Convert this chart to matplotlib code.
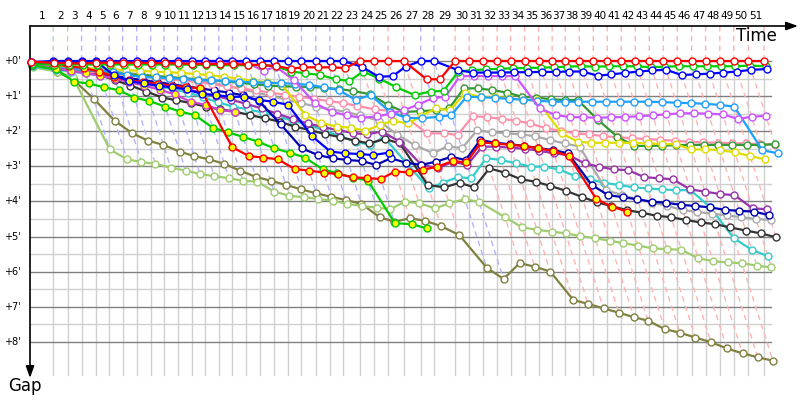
import numpy as np
import matplotlib
matplotlib.use("Agg")
import matplotlib.pyplot as plt

# leader lap times in seconds, laps 1..51
lap_times = [119, 77, 75, 75, 73, 72, 75, 75, 71, 73,
             75, 71, 75, 73, 75, 75, 73, 75, 72, 77,
             75, 71, 89, 75, 77, 84, 91, 71, 113, 75,
             75, 75, 72, 75, 75, 73, 70, 75, 75, 75,
             75, 75, 75, 75, 75, 77, 75, 76, 75, 78,
             84]
# who led each lap (colour of the lap line): G green, B blue, R red
lap_leader = "GGBBBBBBBBBBBBBBBBBBBBRRRRBBRRRRRRRRRRRRRRRRRRRRRRR"

# gap to the leader in minutes, one value per completed lap (lap 0 = start)
red_1 = [0.02, 0.05, 0.06, 0.07, 0.05, 0.05, 0.05, 0.05, 0.06, 0.06,
         0.07, 0.08, 0.08, 0.09, 0.09, 0.10, 0.12, 0.14, 0.22, 0.18,
         0.18, 0.18, 0.20, 0.00, 0.00, 0.00, 0.00, 0.52, 0.52, 0.00,
         0.00, 0.00, 0.00, 0.00, 0.00, 0.00, 0.00, 0.00, 0.00, 0.00,
         0.00, 0.00, 0.00, 0.00, 0.00, 0.00, 0.00, 0.00, 0.00, 0.00,
         0.00, 0.00]
blue_1 = [0.03, 0.03, 0.03, 0.02, 0.02, 0.00, 0.00, 0.00, 0.00, 0.00,
          0.00, 0.00, 0.00, 0.00, 0.00, 0.00, 0.00, 0.00, 0.00, 0.00,
          0.00, 0.00, 0.00, 0.16, 0.45, 0.43, 0.16, 0.00, 0.00, 0.26,
          0.33, 0.33, 0.33, 0.32, 0.32, 0.31, 0.31, 0.30, 0.30, 0.42,
          0.38, 0.34, 0.30, 0.27, 0.25, 0.40, 0.38, 0.36, 0.33, 0.30,
          0.25, 0.23]
green_1 = [0.08, 0.10, 0.10, 0.10, 0.10, 0.10, 0.10, 0.10, 0.10, 0.10,
           0.10, 0.11, 0.11, 0.12, 0.12, 0.12, 0.11, 0.15, 0.30, 0.35,
           0.40, 0.52, 0.57, 0.30, 0.50, 0.75, 0.97, 0.87, 0.85, 0.30,
           0.26, 0.24, 0.22, 0.21, 0.20, 0.19, 0.18, 0.16, 0.15, 0.16,
           0.15, 0.15, 0.15, 0.18, 0.16, 0.15, 0.15, 0.15, 0.15, 0.15,
           0.13, 0.15]
violet = [0.05, 0.08, 0.06, 0.04, 0.02, 0.01, 0.01, 0.01, 0.01, 0.02,
          0.03, 0.03, 0.03, 0.04, 0.04, 0.05, 0.28, 0.16, 0.55, 1.20,
          1.45, 1.55, 1.62, 1.58, 1.50, 1.40, 1.25, 1.06, 1.02, 0.43,
          0.43, 0.43, 0.43, 0.43, 1.35, 1.54, 1.60, 1.60, 1.62, 1.60,
          1.60, 1.57, 1.55, 1.52, 1.49, 1.49, 1.50, 1.52, 1.65, 1.59,
          1.56]
light_blue = [0.12, 0.20, 0.22, 0.25, 0.28, 0.30, 0.40, 0.45, 0.47, 0.49,
              0.51, 0.54, 0.55, 0.57, 0.59, 0.61, 0.62, 0.63, 0.65, 0.68,
              0.75, 0.83, 1.11, 0.97, 1.45, 1.62, 1.63, 1.59, 1.54, 1.02,
              1.03, 1.05, 1.08, 1.10, 1.13, 1.16, 1.16, 1.16, 1.16, 1.16,
              1.16, 1.16, 1.16, 1.17, 1.19, 1.20, 1.22, 1.25, 1.30, 2.54,
              2.63]
yellow = [0.08, 0.15, 0.18, 0.20, 0.22, 0.24, 0.26, 0.28, 0.30, 0.32,
          0.34, 0.37, 0.40, 0.45, 0.50, 0.57, 0.60, 0.64, 1.54, 1.76,
          1.87, 1.90, 1.99, 1.82, 1.70, 1.78, 1.57, 1.35, 1.40, 0.92,
          1.02, 1.03, 1.06, 1.11, 1.12, 2.06, 2.30, 2.33, 2.33, 2.33,
          2.33, 2.35, 2.36, 2.37, 2.52, 2.52, 2.54, 2.60, 2.71, 2.80]
dark_green = [0.10, 0.18, 0.22, 0.26, 0.30, 0.34, 0.37, 0.40, 0.43, 0.46,
              0.49, 0.52, 0.55, 0.58, 0.62, 0.66, 0.70, 0.72, 0.73, 0.74,
              0.76, 0.80, 0.85, 0.95, 1.25, 1.45, 1.43, 1.40, 1.35, 0.78,
              0.78, 0.83, 0.90, 1.02, 1.04, 1.09, 1.11, 1.11, 1.68, 2.16,
              2.42, 2.42, 2.41, 2.40, 2.39, 2.39, 2.39, 2.39, 2.39, 2.39,
              2.37]
pink = [0.12, 0.20, 0.25, 0.30, 0.33, 0.36, 0.40, 0.44, 0.48, 0.52,
        0.56, 0.60, 0.66, 0.72, 0.78, 0.84, 0.90, 0.96, 1.02, 1.08,
        1.14, 1.20, 1.28, 1.38, 1.42, 1.60, 2.06, 2.06, 2.11, 1.57,
        1.60, 1.65, 1.70, 1.78, 1.92, 1.99, 2.06, 2.09, 2.14, 2.17,
        2.20, 2.22, 2.25, 2.27, 2.30, 2.32, 2.33, 2.34, 2.35, 2.37,
        2.38]
gray = [0.10, 0.15, 0.20, 0.24, 0.27, 0.30, 0.34, 0.38, 0.42, 0.46,
        0.50, 0.55, 0.62, 0.70, 0.80, 0.90, 1.00, 1.10, 1.20, 1.30,
        1.38, 1.45, 1.55, 1.70, 2.10, 2.40, 2.63, 2.42, 2.49, 1.97,
        2.03, 2.06, 2.09, 2.14, 2.25, 2.35, 2.44, 3.68, 3.82, 3.94,
        4.04, 4.13, 4.25, 4.30, 4.35, 4.40, 4.45, 4.50, 4.53]
black = [0.08, 0.18, 0.22, 0.28, 0.40, 0.55, 0.70, 0.87, 1.04, 1.12,
         1.20, 1.30, 1.38, 1.44, 1.54, 1.63, 1.73, 1.87, 1.97, 2.08,
         2.17, 2.27, 2.35, 2.22, 2.35, 3.53, 3.60, 3.47, 3.60, 3.06,
         3.18, 3.37, 3.44, 3.56, 3.70, 3.87, 4.03, 4.13, 4.25, 4.32,
         4.41, 4.45, 4.53, 4.60, 4.65, 4.74, 4.83, 4.91, 5.02]
navy = [0.10, 0.20, 0.25, 0.30, 0.35, 0.42, 0.48, 0.55, 0.60, 0.66,
        0.72, 0.78, 0.84, 0.90, 0.98, 1.15, 1.80, 2.49, 2.68, 2.77,
        2.82, 2.85, 2.96, 2.77, 2.90, 2.96, 2.87, 2.73, 2.82, 2.25,
        2.33, 2.37, 2.42, 2.48, 2.54, 2.63, 3.53, 3.82, 3.88, 3.94,
        4.01, 4.04, 4.10, 4.13, 4.17, 4.24, 4.27, 4.29, 4.39]
purple = [0.12, 0.22, 0.27, 0.32, 0.37, 0.43, 0.50, 0.57, 0.64, 0.72,
          0.80, 0.90, 1.00, 1.10, 1.22, 1.35, 1.50, 1.65, 1.78, 1.88,
          1.97, 2.05, 2.09, 2.01, 2.30, 2.96, 3.05, 2.87, 2.96, 2.44,
          2.44, 2.47, 2.50, 2.56, 2.63, 2.68, 2.92, 3.01, 3.09, 3.11,
          3.31, 3.34, 3.37, 3.66, 3.72, 3.79, 3.82, 4.20, 4.22]
cyan = [0.15, 0.25, 0.30, 0.35, 0.42, 0.50, 0.57, 0.65, 0.72, 0.80,
        0.90, 1.03, 1.18, 1.30, 1.38, 1.47, 1.59, 1.70, 1.82, 1.97,
        2.14, 2.30, 2.39, 2.17, 2.90, 3.63, 3.47, 3.31, 3.34, 2.77,
        2.82, 2.91, 3.01, 3.01, 3.09, 3.28, 3.37, 3.47, 3.53, 3.60,
        3.63, 3.66, 3.68, 3.68, 4.15, 5.05, 5.38, 5.56]
light_green = [0.18, 0.30, 0.45, 2.52, 2.80, 2.88, 2.93, 3.04, 3.12, 3.22,
               3.28, 3.34, 3.41, 3.44, 3.72, 3.84, 3.88, 3.93, 3.98, 4.07,
               4.13, 4.18, 4.22, 4.01, 4.05, 4.20, 4.05, 3.94, 4.01, 4.45,
               4.74, 4.81, 4.86, 4.91, 4.99, 5.05, 5.12, 5.19, 5.26, 5.34,
               5.36, 5.38, 5.62, 5.70, 5.74, 5.76, 5.83, 5.88]
olive = [0.10, 0.30, 0.54, 1.07, 1.70, 2.06, 2.27, 2.39, 2.58, 2.71,
         2.80, 2.93, 3.12, 3.30, 3.41, 3.53, 3.66, 3.77, 3.87, 3.96,
         4.07, 4.45, 4.58, 4.48, 4.55, 4.70, 4.96, 5.89, 6.21, 5.76,
         5.86, 6.00, 6.81, 6.92, 7.05, 7.17, 7.30, 7.40, 7.64, 7.74,
         7.88, 8.01, 8.19, 8.33, 8.44, 8.54]
red_2 = [0.05, 0.10, 0.15, 0.20, 0.30, 0.45, 0.55, 0.60, 0.65, 0.70,
         0.74, 0.78, 2.46, 2.71, 2.75, 2.80, 3.08, 3.12, 3.18, 3.22,
         3.31, 3.34, 3.36, 3.15, 3.17, 3.10, 3.01, 2.85, 2.89, 2.32,
         2.35, 2.39, 2.42, 2.49, 2.56, 2.71, 3.93, 4.15, 4.29]
blue_2 = [0.03, 0.00, 0.00, 0.00, 0.00, 0.40, 0.57, 0.64, 0.71, 0.75,
          0.81, 0.94, 0.97, 1.02, 1.02, 1.11, 1.16, 1.25, 2.14, 2.58,
          2.63, 2.65, 2.68, 2.61]
green_2 = [0.12, 0.24, 0.59, 0.64, 0.75, 0.83, 1.04, 1.14, 1.30, 1.44,
           1.54, 1.90, 2.03, 2.16, 2.30, 2.49, 2.61, 2.75, 3.08, 3.20,
           3.32, 3.41, 4.62, 4.65, 4.77]
magenta_2 = [0.10, 0.20, 0.28, 0.35, 0.42, 0.50, 0.60, 0.70, 0.82, 0.95,
             1.16, 1.25, 1.40, 1.45]

# (gaps, line colour, marker fill), drawn bottom to top
drivers = [
    (olive, "#808040", "white"),
    (light_green, "#a0cc70", "white"),
    (cyan, "#33cccc", "white"),
    (black, "#333333", "white"),
    (gray, "#aaaaaa", "white"),
    (purple, "#9933aa", "white"),
    (navy, "#0000b0", "white"),
    (pink, "#ff8fab", "white"),
    (dark_green, "#339933", "white"),
    (yellow, "#dddd00", "white"),
    (light_blue, "#1ea0ff", "white"),
    (violet, "#cc55ff", "white"),
    (magenta_2, "#cc44cc", "#ffff00"),
    (green_2, "#00cc00", "#ffff00"),
    (red_2, "#ff0000", "#ffff00"),
    (blue_2, "#0000ff", "#ffff00"),
    (green_1, "#00cc00", "white"),
    (blue_1, "#0000ff", "white"),
    (red_1, "#ff0000", "white"),
]
leader_colors = {"G": "#b0e0a8", "B": "#b4b4ff", "R": "#ffb4b4"}

# pixel scale of the original: 11.2 px per minute across, 35.1 px per minute down
T = np.concatenate([[0.0], np.cumsum(lap_times) / 60.0])
x_left = -1 / 11.2
x_right = 769 / 11.2
y_top = -35 / 35.1
y_bottom = 324 / 35.1

fig = plt.figure(figsize=(8, 4), dpi=100)
ax = fig.add_axes([30 / 800, 15 / 400, 770 / 800, 359 / 400])
ax.set_xlim(x_left, x_right)
ax.set_ylim(y_bottom, y_top)
ax.axis("off")

grid_end = T[-1] + 0.6
for t in T[1:]:
    ax.plot([t, t], [0, 8.95], color="#d0d0d0", lw=1, zorder=0.5)
for m in np.arange(0.5, 8, 1.0):
    ax.plot([x_left, grid_end], [m, m], color="#d0d0d0", lw=1, zorder=0.6)
for m in range(9):
    ax.plot([x_left, grid_end], [m, m], color="#808080", lw=1, zorder=0.7)

# lap lines: every car crossing the line on lap k sits at (T[k] + gap, gap)
for k in range(1, len(T)):
    g_max = max(d[0][k] for d in drivers if len(d[0]) > k)
    ax.plot([T[k], T[k], T[k] + g_max], [y_top, 0, g_max],
            color=leader_colors[lap_leader[k - 1]], lw=1, ls=(0, (4, 3)), zorder=1)

for i, (gaps, color, fill) in enumerate(drivers):
    g = np.array(gaps)
    ax.plot(T[:len(g)] + g, g, color=color, lw=1.6, marker="o", ms=5,
            mfc=fill, mec=color, mew=1, zorder=3 + i, clip_on=False)

# axes with arrows
ax.annotate("", xy=(767 / 11.2, y_top), xytext=(x_left, y_top),
            arrowprops=dict(arrowstyle="-|>,head_length=0.7,head_width=0.25",
                            color="black", lw=1.2, shrinkA=0, shrinkB=0),
            annotation_clip=False, zorder=20)
ax.annotate("", xy=(x_left, 317 / 35.1), xytext=(x_left, y_top),
            arrowprops=dict(arrowstyle="-|>,head_length=0.7,head_width=0.25",
                            color="black", lw=1.2, shrinkA=0, shrinkB=0),
            annotation_clip=False, zorder=20)

for k in range(1, len(T)):
    ax.text((T[k - 1] + T[k]) / 2, -45 / 35.1, str(k), ha="center", va="center",
            fontsize=7.5, clip_on=False)
for m in range(9):
    ax.text(-10 / 11.2, m, "+%d'" % m, ha="right", va="center", fontsize=7, clip_on=False)

ax.text(746 / 11.2, -25 / 35.1, "Time", ha="right", va="center", fontsize=12, zorder=25)
fig.text(25 / 800, 1 - 386 / 400, "Gap", ha="center", va="center", fontsize=12)

fig.savefig("out.png", dpi=100)
